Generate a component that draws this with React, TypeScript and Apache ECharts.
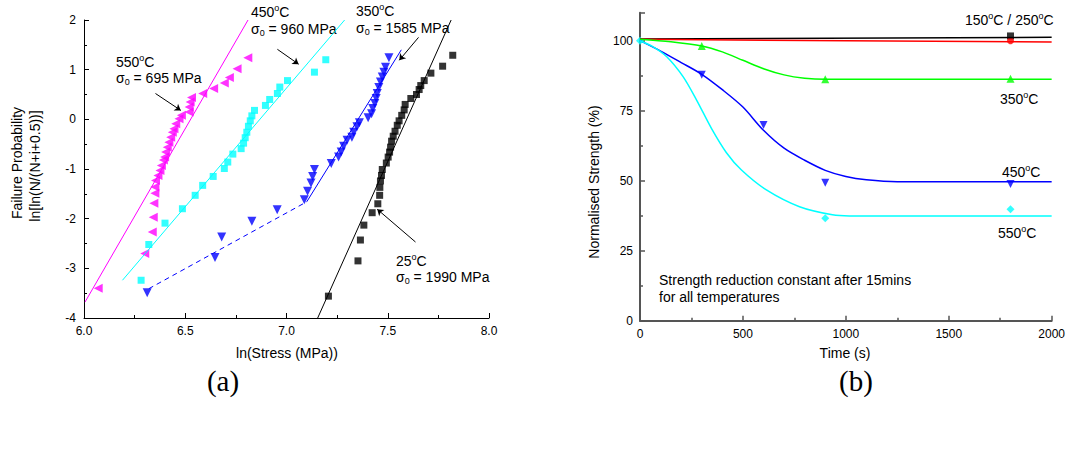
import React, { useEffect, useRef } from "react";
import * as echarts from "echarts";

// ---------- Panel (a): Weibull plot data ----------
const mag550: number[][] = [
  [6.07, -3.4], [6.3, -2.7], [6.337, -2.27], [6.342, -1.97], [6.345, -1.69], [6.35, -1.49],
  [6.35, -1.36], [6.353, -1.23], [6.365, -1.13], [6.375, -1.03], [6.382, -0.93], [6.392, -0.82],
  [6.398, -0.76], [6.403, -0.66], [6.411, -0.56], [6.419, -0.46], [6.428, -0.36], [6.436, -0.26],
  [6.444, -0.19], [6.453, -0.09], [6.469, 0.01], [6.481, 0.08], [6.519, 0.15], [6.519, 0.25],
  [6.524, 0.35], [6.531, 0.44], [6.586, 0.52], [6.64, 0.62], [6.693, 0.73], [6.718, 0.84],
  [6.756, 1.02], [6.809, 1.24],
];
const cyan450: number[][] = [
  [6.282, -3.24], [6.32, -2.52], [6.4, -2.09], [6.486, -1.8], [6.549, -1.53], [6.586, -1.33],
  [6.638, -1.15], [6.693, -0.99], [6.71, -0.86], [6.735, -0.7], [6.776, -0.59], [6.788, -0.48],
  [6.796, -0.37], [6.804, -0.26], [6.812, -0.14], [6.821, -0.03], [6.829, 0.07], [6.842, 0.18],
  [6.896, 0.28], [6.917, 0.4], [6.955, 0.52], [6.967, 0.65], [7.005, 0.78], [7.138, 0.95],
  [7.194, 1.2],
];
const blue350: number[][] = [
  [6.312, -3.49], [6.647, -2.78], [6.68, -2.37], [6.829, -2.05], [6.954, -1.82], [7.088, -1.62],
  [7.104, -1.45], [7.121, -1.28], [7.129, -1.15], [7.138, -1.01], [7.221, -0.89], [7.257, -0.76],
  [7.27, -0.66], [7.282, -0.54], [7.299, -0.42], [7.323, -0.36], [7.332, -0.26], [7.348, -0.15],
  [7.36, -0.07], [7.403, 0.03], [7.42, 0.11], [7.426, 0.22], [7.436, 0.32], [7.443, 0.42],
  [7.448, 0.52], [7.456, 0.64], [7.464, 0.75], [7.473, 0.85], [7.481, 0.95], [7.489, 1.05],
  [7.506, 1.24],
];
const black25: number[][] = [
  [7.207, -3.56], [7.353, -2.85], [7.365, -2.43], [7.382, -2.13], [7.423, -1.88], [7.451, -1.7],
  [7.46, -1.53], [7.461, -1.37], [7.464, -1.24], [7.469, -1.13], [7.473, -1.01], [7.493, -0.88],
  [7.502, -0.76], [7.509, -0.66], [7.514, -0.56], [7.519, -0.44], [7.527, -0.34], [7.536, -0.24],
  [7.547, -0.12], [7.556, -0.03], [7.569, 0.08], [7.581, 0.19], [7.586, 0.3], [7.614, 0.42],
  [7.642, 0.5], [7.655, 0.6], [7.663, 0.68], [7.68, 0.78], [7.713, 0.93], [7.771, 1.07],
  [7.821, 1.29],
];
const fitMag: number[][] = [[6.005, -3.68], [6.81, 2.0]];
const fitCyan: number[][] = [[6.19, -3.24], [7.287, 2.0]];
const fitBlueDash: number[][] = [[6.32, -3.41], [7.1, -1.66]];
const fitBlueSolid: number[][] = [[7.1, -1.66], [7.567, 1.4]];
const fitBlack: number[][] = [[7.154, -4.0], [7.813, 2.0]];
// annotation arrows (data coords: from, to)
const arrowsA: number[][][] = [
  [[6.353, 0.52], [6.478, 0.18]],
  [[6.955, 1.41], [7.06, 1.11]],
  [[7.652, 1.65], [7.557, 1.19]],
  [[7.637, -2.47], [7.448, -1.81]],
];
const xTicksA = { min: 6, max: 8, interval: 0.5 };
const yTicksA = { min: -4, max: 2, interval: 1 };

// ---------- Panel (b): strength vs time ----------
const curve150: number[][] = [[0, 100.6], [2000, 101.2]];
const curve250: number[][] = [[0, 100.5], [2000, 99.5]];
const curve350: number[][] = [
  [0, 100.5], [150, 99.6], [300, 98.1], [400, 96], [500, 93], [600, 90], [700, 87.8],
  [800, 86.6], [900, 86.2], [2000, 86.2],
];
const curve450: number[][] = [
  [0, 100], [100, 96.3], [200, 92.2], [300, 88], [400, 82.5], [500, 76.3], [600, 68],
  [700, 61.6], [800, 57.3], [900, 53.7], [1000, 51.5], [1100, 50.3], [1250, 49.6], [2000, 49.6],
];
const curve550: number[][] = [
  [0, 100], [60, 98], [130, 94.3], [210, 87.1], [275, 78.8], [347, 68.7], [420, 60],
  [493, 53.8], [614, 46.7], [775, 40.7], [935, 37.8], [1017, 37.4], [2000, 37.4],
];
const pts150: number[][] = [[1800, 101.7]];
const pts250: number[][] = [[1800, 100]];
const pts350: number[][] = [[300, 98.1], [900, 86.2], [1800, 86.4]];
const pts450: number[][] = [[300, 87.8], [600, 69.9], [900, 49.3], [1800, 48.8]];
const pts550: number[][] = [[0, 100], [900, 36.6], [1800, 39.8]];
const xTicksB = { min: 0, max: 2000, interval: 500 };
const yTicksB = { min: 0, max: 110, interval: 25 };

const SANS = "'Liberation Sans', Arial, sans-serif";
const SERIF = "'Liberation Serif', 'Times New Roman', serif";

const rich = {
  sup: { fontSize: 9, verticalAlign: "top", lineHeight: 17, fontFamily: SANS, fill: "#000" },
  sub: { fontSize: 9, verticalAlign: "bottom", lineHeight: 17, fontFamily: SANS, fill: "#000" },
};

function label(text: string, x: number, y: number, size = 14, rot = 0, align = "left", family = SANS) {
  return {
    type: "text",
    x,
    y,
    rotation: rot,
    silent: true,
    style: {
      text,
      rich,
      fontSize: size,
      fontFamily: family,
      lineHeight: 17,
      fill: "#000",
      align,
      verticalAlign: "middle",
    },
  };
}

export default function App() {
  const ref = useRef<HTMLDivElement>(null);
  useEffect(() => {
    if (!ref.current) return;
    const chart = echarts.init(ref.current, null, { renderer: "svg" });

    const axisA = (color: string, w: number) => ({
      axisLine: { onZero: false, lineStyle: { color, width: w } },
      axisTick: { inside: true, length: 5, lineStyle: { color, width: w > 1 ? 1.5 : 1 } },
      minorTick: { show: true, splitNumber: 2, length: 3, lineStyle: { color, width: w > 1 ? 1.5 : 1 } },
      splitLine: { show: false },
    });
    const lbl = (margin: number, fmt: (v: number) => string) => ({
      color: "#000", fontSize: 12, fontFamily: SANS, margin, formatter: fmt, showMaxLabel: true,
    });

    const option: any = {
      animation: false,
      grid: [
        { left: 84, top: 20, width: 405, height: 298 },
        { left: 640, top: 12.7, width: 412.7, height: 308 },
      ],
      xAxis: [
        { gridIndex: 0, type: "value", ...xTicksA, ...axisA("#000", 1), axisLabel: lbl(7, (v) => v.toFixed(1)) },
        { gridIndex: 1, type: "value", ...xTicksB, ...axisA("#555", 2), axisLabel: lbl(7, (v) => String(v)) },
      ],
      yAxis: [
        { gridIndex: 0, type: "value", ...yTicksA, ...axisA("#000", 1), axisLabel: lbl(8, (v) => String(v)) },
        {
          gridIndex: 1, type: "value", ...yTicksB, ...axisA("#555", 2),
          axisLabel: { ...lbl(7, (v) => (v > 100 ? "" : String(v))), showMaxLabel: false },
        },
      ],
      series: [
        // panel (a) fit lines
        { type: "line", xAxisIndex: 0, yAxisIndex: 0, data: fitMag, showSymbol: false, symbol: "none", lineStyle: { color: "#ff00ff", width: 1 }, silent: true },
        { type: "line", xAxisIndex: 0, yAxisIndex: 0, data: fitCyan, showSymbol: false, symbol: "none", lineStyle: { color: "#00ffff", width: 1 }, silent: true },
        { type: "line", xAxisIndex: 0, yAxisIndex: 0, data: fitBlueDash, showSymbol: false, symbol: "none", lineStyle: { color: "#0000ff", width: 1, type: [5, 4] }, silent: true },
        { type: "line", xAxisIndex: 0, yAxisIndex: 0, data: fitBlueSolid, showSymbol: false, symbol: "none", lineStyle: { color: "#0000ff", width: 1 }, silent: true },
        {
          type: "line", xAxisIndex: 0, yAxisIndex: 0, data: fitBlack, showSymbol: false, symbol: "none",
          lineStyle: { color: "#000", width: 1 }, silent: true,
          markLine: {
            silent: true,
            symbol: ["none", "arrow"],
            symbolSize: 6,
            label: { show: false },
            lineStyle: { color: "#000", width: 1, type: "solid" },
            data: arrowsA.map((a) => [{ coord: a[0] }, { coord: a[1] }]),
          },
        },
        // panel (a) points
        { type: "scatter", xAxisIndex: 0, yAxisIndex: 0, data: mag550, symbol: "triangle", symbolRotate: 90, symbolSize: 9, itemStyle: { color: "#ff00ff" } },
        { type: "scatter", xAxisIndex: 0, yAxisIndex: 0, data: cyan450, symbol: "rect", symbolSize: 7, itemStyle: { color: "#00ffff" } },
        { type: "scatter", xAxisIndex: 0, yAxisIndex: 0, data: blue350, symbol: "triangle", symbolRotate: 180, symbolSize: 9, itemStyle: { color: "#0000ff" } },
        { type: "scatter", xAxisIndex: 0, yAxisIndex: 0, data: black25, symbol: "rect", symbolSize: 7, itemStyle: { color: "#000" } },
        // panel (b) curves
        { type: "line", xAxisIndex: 1, yAxisIndex: 1, data: curve150, symbol: "none", lineStyle: { color: "#000", width: 1.5 } },
        { type: "line", xAxisIndex: 1, yAxisIndex: 1, data: curve250, symbol: "none", lineStyle: { color: "#ff0000", width: 1.5 } },
        { type: "line", xAxisIndex: 1, yAxisIndex: 1, data: curve350, symbol: "none", smooth: 0.3, lineStyle: { color: "#00ff00", width: 1.5 } },
        { type: "line", xAxisIndex: 1, yAxisIndex: 1, data: curve450, symbol: "none", smooth: 0.3, lineStyle: { color: "#0000ff", width: 1.5 } },
        { type: "line", xAxisIndex: 1, yAxisIndex: 1, data: curve550, symbol: "none", smooth: 0.3, lineStyle: { color: "#00ffff", width: 1.5 } },
        // panel (b) markers
        { type: "scatter", xAxisIndex: 1, yAxisIndex: 1, data: pts150, symbol: "rect", symbolSize: 7, itemStyle: { color: "#000" } },
        { type: "scatter", xAxisIndex: 1, yAxisIndex: 1, data: pts250, symbol: "circle", symbolSize: 7, itemStyle: { color: "#ff0000" } },
        { type: "scatter", xAxisIndex: 1, yAxisIndex: 1, data: pts350, symbol: "triangle", symbolSize: 8, itemStyle: { color: "#00ff00" } },
        { type: "scatter", xAxisIndex: 1, yAxisIndex: 1, data: pts450, symbol: "triangle", symbolRotate: 180, symbolSize: 8, itemStyle: { color: "#0000ff" } },
        { type: "scatter", xAxisIndex: 1, yAxisIndex: 1, data: pts550, symbol: "diamond", symbolSize: 8, itemStyle: { color: "#00ffff" } },
      ],
      graphic: [
        // panel (a) axis titles
        label("Failure Probability", 17, 163, 14, Math.PI / 2, "center"),
        label("ln[ln(N/(N+i+0.5))]", 35, 166, 14, Math.PI / 2, "center"),
        label("ln(Stress (MPa))", 287, 353, 14, 0, "center"),
        // panel (a) annotations
        label("550{sup|o}C", 116, 62),
        label("σ{sub|0} = 695 MPa", 116, 78),
        label("450{sup|o}C", 251, 12),
        label("σ{sub|0} = 960 MPa", 251, 29),
        label("350{sup|o}C", 356, 11),
        label("σ{sub|0} = 1585 MPa", 356, 28),
        label("25{sup|o}C", 396, 261),
        label("σ{sub|0} = 1990 MPa", 396, 277),
        // panel (b) titles
        label("Normalised Strength (%)", 594, 182, 14, Math.PI / 2, "center"),
        label("Time (s)", 845, 353, 14, 0, "center"),
        label("150{sup|o}C / 250{sup|o}C", 965, 20),
        label("350{sup|o}C", 1000, 99),
        label("450{sup|o}C", 1002, 172),
        label("550{sup|o}C", 998, 233),
        label("Strength reduction constant after 15mins", 659, 280),
        label("for all temperatures", 659, 297),
        // panel captions
        label("(a)", 223, 381, 29, 0, "center", SERIF),
        label("(b)", 856, 381, 29, 0, "center", SERIF),
      ],
    };
    chart.setOption(option);
    return () => chart.dispose();
  }, []);
  return (
    <div
      ref={ref}
      style={{ position: "fixed", left: 0, top: 0, width: 1068, height: 452, background: "#fff" }}
    />
  );
}
